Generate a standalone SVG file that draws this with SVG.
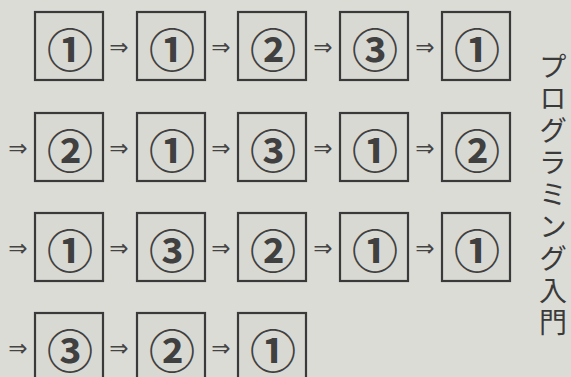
<svg xmlns="http://www.w3.org/2000/svg" width="571" height="377" viewBox="0 0 571 377">
<style>
.box{fill:#d9d9d3;stroke:#3a3a3a;stroke-width:2.2}
.num{font-family:"Noto Sans CJK JP","Noto Sans CJK SC",sans-serif;font-size:46px;font-weight:bold;fill:#404040;text-anchor:middle;dominant-baseline:central}
.arr{font-family:"DejaVu Sans",sans-serif;font-size:23px;fill:#444;text-anchor:middle;dominant-baseline:central}
.title{font-family:"Noto Sans CJK JP",sans-serif;font-size:28px;fill:#3a3a3a;writing-mode:vertical-rl;letter-spacing:4px}
</style>
<rect width="571" height="377" fill="#dcdcd7"/>
<g id="n1"><rect class="box" x="35" y="12" width="68" height="68"/><text class="num" x="70" y="47">①</text></g>
<g id="n2"><rect class="box" x="137" y="12" width="68" height="68"/><text class="num" x="172" y="47">①</text></g>
<g id="n3"><rect class="box" x="238" y="12" width="68" height="68"/><text class="num" x="273" y="47">②</text></g>
<g id="n4"><rect class="box" x="340" y="12" width="68" height="68"/><text class="num" x="375" y="47">③</text></g>
<g id="n5"><rect class="box" x="442" y="12" width="68" height="68"/><text class="num" x="477" y="47">①</text></g>
<g id="n6"><rect class="box" x="35" y="113" width="68" height="68"/><text class="num" x="70" y="148">②</text></g>
<g id="n7"><rect class="box" x="137" y="113" width="68" height="68"/><text class="num" x="172" y="148">①</text></g>
<g id="n8"><rect class="box" x="238" y="113" width="68" height="68"/><text class="num" x="273" y="148">③</text></g>
<g id="n9"><rect class="box" x="340" y="113" width="68" height="68"/><text class="num" x="375" y="148">①</text></g>
<g id="n10"><rect class="box" x="442" y="113" width="68" height="68"/><text class="num" x="477" y="148">②</text></g>
<g id="n11"><rect class="box" x="35" y="213" width="68" height="68"/><text class="num" x="70" y="248">①</text></g>
<g id="n12"><rect class="box" x="137" y="213" width="68" height="68"/><text class="num" x="172" y="248">③</text></g>
<g id="n13"><rect class="box" x="238" y="213" width="68" height="68"/><text class="num" x="273" y="248">②</text></g>
<g id="n14"><rect class="box" x="340" y="213" width="68" height="68"/><text class="num" x="375" y="248">①</text></g>
<g id="n15"><rect class="box" x="442" y="213" width="68" height="68"/><text class="num" x="477" y="248">①</text></g>
<g id="n16"><rect class="box" x="35" y="313" width="68" height="68"/><text class="num" x="70" y="348">③</text></g>
<g id="n17"><rect class="box" x="137" y="313" width="68" height="68"/><text class="num" x="172" y="348">②</text></g>
<g id="n18"><rect class="box" x="238" y="313" width="68" height="68"/><text class="num" x="273" y="348">①</text></g>
<g id="connectors">
<text class="arr" x="119" y="47">⇒</text><text class="arr" x="221" y="47">⇒</text><text class="arr" x="323" y="47">⇒</text><text class="arr" x="425" y="47">⇒</text>
<text class="arr" x="18" y="148">⇒</text><text class="arr" x="119" y="148">⇒</text><text class="arr" x="221" y="148">⇒</text><text class="arr" x="323" y="148">⇒</text><text class="arr" x="425" y="148">⇒</text>
<text class="arr" x="18" y="248">⇒</text><text class="arr" x="119" y="248">⇒</text><text class="arr" x="221" y="248">⇒</text><text class="arr" x="323" y="248">⇒</text><text class="arr" x="425" y="248">⇒</text>
<text class="arr" x="18" y="348">⇒</text><text class="arr" x="119" y="348">⇒</text><text class="arr" x="221" y="348">⇒</text>
</g>
<text class="title" x="553" y="52">プログラミング入門</text>
</svg>
